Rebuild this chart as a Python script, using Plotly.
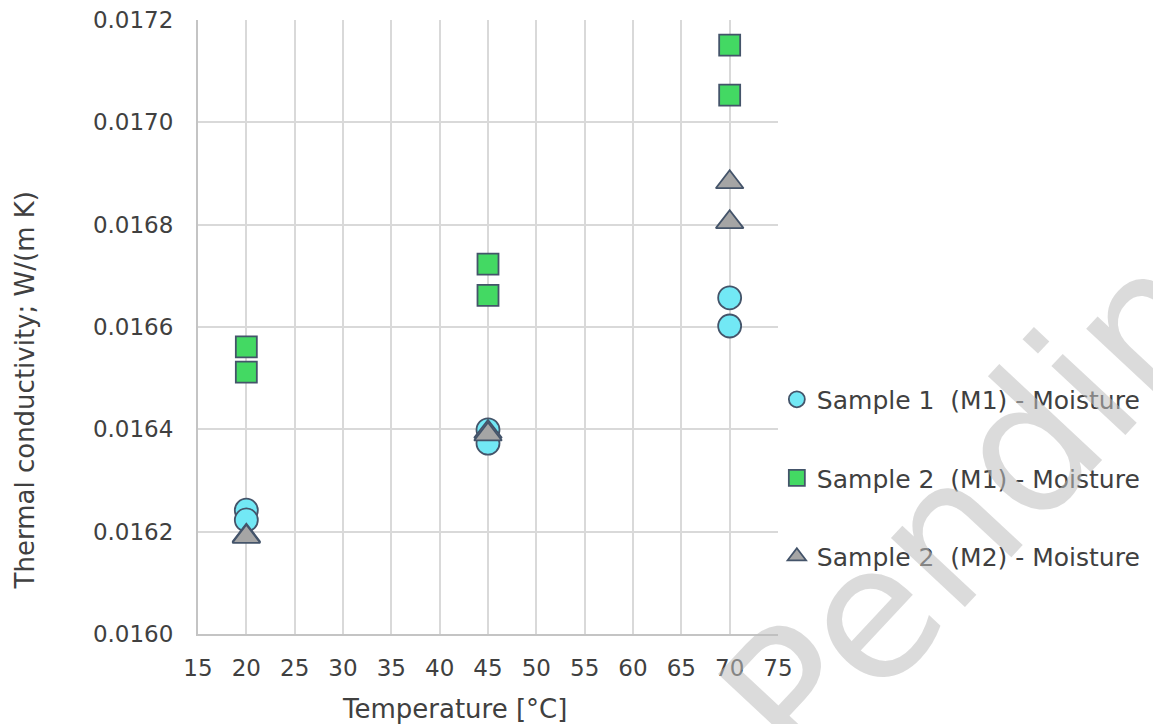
import plotly.graph_objects as go

# Data
temps_s1 = [20, 20, 45, 45, 70, 70]
k_s1 = [0.016242, 0.016223, 0.016399, 0.016373, 0.016657, 0.016602]

temps_s2m1 = [20, 20, 45, 45, 70, 70]
k_s2m1 = [0.016561, 0.016512, 0.016723, 0.016662, 0.017151, 0.017053]

temps_s2m2 = [20, 20, 45, 45, 70, 70]
k_s2m2 = [0.016192, 0.016190, 0.016395, 0.016390, 0.016883, 0.016805]

names = ["Sample 1  (M1) - Moisture", "Sample 2  (M1) - Moisture", "Sample 2  (M2) - Moisture"]
y_ticks = [0.0160, 0.0162, 0.0164, 0.0166, 0.0168, 0.0170, 0.0172]
y_ticktext = ["0.0160", "0.0162", "0.0164", "0.0166", "0.0168", "0.0170", "0.0172"]
x_ticks = [15, 20, 25, 30, 35, 40, 45, 50, 55, 60, 65, 70, 75]
x_title = "Temperature [°C]"
y_title = "Thermal conductivity; W/(m K)"
watermark = "Pending"

FONT = "DejaVu Sans"
TXT = "#404040"
EDGE = "#44546a"

fig = go.Figure()
fig.add_trace(go.Scatter(x=temps_s1, y=k_s1, mode="markers", name=names[0], legendgroup="a",
                         marker=dict(symbol="circle", size=23, color="#72e8f5",
                                     line=dict(color=EDGE, width=1.8))))
fig.add_trace(go.Scatter(x=temps_s2m1, y=k_s2m1, mode="markers", name=names[1], legendgroup="b",
                         marker=dict(symbol="square", size=21, color="#43d963",
                                     line=dict(color=EDGE, width=1.8))))
fig.add_trace(go.Scatter(x=temps_s2m2, y=k_s2m2, mode="markers", name=names[2], legendgroup="c",
                         marker=dict(symbol="triangle-up", size=24, color="#a5a5a5",
                                     line=dict(color=EDGE, width=1.8))))

# watermark
fig.add_annotation(text=watermark, xref="paper", yref="paper", x=1.40, y=0.275,
                   xanchor="center", yanchor="middle",
                   showarrow=False, textangle=-47,
                   font=dict(family=FONT, size=185, color="rgba(190,190,190,0.55)"))

# axis titles (placed as in the reference)
fig.add_annotation(text=x_title, xref="paper", yref="paper", x=0.443, y=-0.122,
                   xanchor="center", yanchor="middle", showarrow=False,
                   font=dict(family=FONT, size=26, color=TXT))
fig.add_annotation(text=y_title, xref="paper", yref="paper", x=-0.298, y=0.397,
                   xanchor="center", yanchor="middle", showarrow=False, textangle=-90,
                   font=dict(family=FONT, size=26, color=TXT))

fig.update_layout(
    width=1153, height=716,
    margin=dict(l=190, r=383, t=12, b=90),
    paper_bgcolor="white", plot_bgcolor="white",
    font=dict(family=FONT, color=TXT, size=23),
    showlegend=True,
    legend=dict(x=0.998, xanchor="left", y=0.254, yanchor="middle",
                font=dict(size=25, color=TXT), tracegroupgap=43,
                itemwidth=30, bgcolor="rgba(0,0,0,0)"),
    xaxis=dict(range=[15, 75], tickmode="array", tickvals=x_ticks,
               showgrid=True, gridcolor="#d9d9d9", gridwidth=2,
               showline=True, linecolor="#c4c4c4", linewidth=2,
               zeroline=False, ticks="", ticklabelstandoff=12,
               ticklabeloverflow="allow", automargin=False,
               tickfont=dict(size=23, color=TXT)),
    yaxis=dict(range=[0.0160, 0.0172], tickmode="array", tickvals=y_ticks, ticktext=y_ticktext,
               showgrid=True, gridcolor="#d9d9d9", gridwidth=2,
               showline=True, linecolor="#c4c4c4", linewidth=2,
               zeroline=False, ticks="", ticklabelstandoff=18,
               ticklabeloverflow="allow", automargin=False,
               tickfont=dict(size=23, color=TXT)),
)

fig.write_html("out.html")
